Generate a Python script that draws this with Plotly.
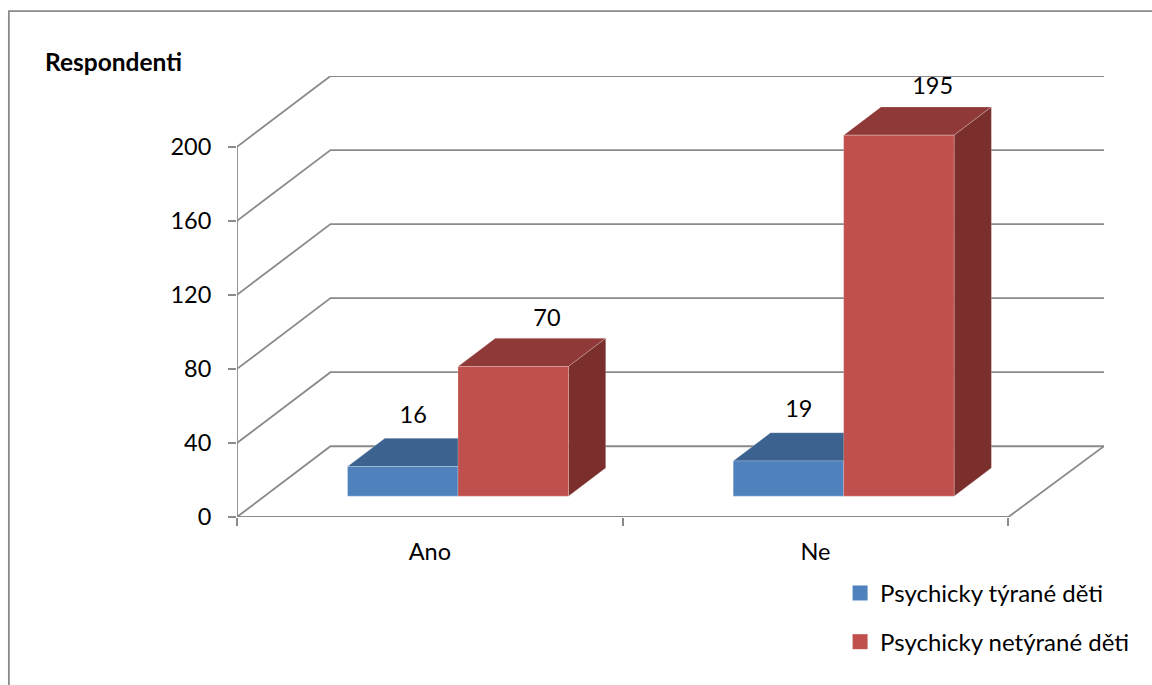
import plotly.graph_objects as go

# Survey counts per answer
categories = ["Ano", "Ne"]
series_names = ["Psychicky týrané děti", "Psychicky netýrané děti"]
abused = [16, 19]
not_abused = [70, 195]
value_ticks = [0, 40, 80, 120, 160, 200]
axis_title = "Respondenti"

# Colours of each series: front, top and side faces
FACES = [
    {"front": "#4f81bd", "top": "#3c6390", "side": "#2f4f73"},
    {"front": "#c0504d", "top": "#8f3a38", "side": "#7a2f2d"},
]
GRID = "#8a8a8a"
FONT = "Lato"

# Oblique projection: how far the back wall is shifted from the front plane
CAT_PX = 385.8
UNIT_PX = 371.5 / 200
DEPTH_X = 93.5 / CAT_PX          # categories
DEPTH_Y = 71.0 / UNIT_PX         # value units
BAR_OFFSET = 0.2151              # bar start inside its category
BAR_WIDTH = 0.2864               # one bar, in categories
DEPTH_NEAR, DEPTH_FAR = 0.295, 0.694
WALL_END = 2.0057                # the back wall runs slightly past the last category
X_MAX = WALL_END + DEPTH_X

# Plot rectangle in pixels
W, H = 1152, 685
LEFT, TOP, BOTTOM = 236.7, 75.5, 517.5
RIGHT = LEFT + X_MAX * CAT_PX


def project(x, v, d):
    """Map category position, value and depth (0 front, 1 back) to axis coordinates."""
    return x + d * DEPTH_X, v + d * DEPTH_Y


def polygon(points):
    xs, ys = zip(*[project(*p) for p in points])
    return list(xs) + [xs[0], None], list(ys) + [ys[0], None]


fig = go.Figure()

# Back walls and floor lines
gx, gy = [], []
for v in value_ticks:
    for p in [(0, v, 0), (0, v, 1), (WALL_END, v, 1)]:
        x, y = project(*p)
        gx.append(x)
        gy.append(y)
    gx.append(None)
    gy.append(None)
for p in [(0, 0, 0), (0, 200, 0), None, (0, 0, 0), (2, 0, 0), (WALL_END, 0, 1)]:
    if p is None:
        gx.append(None)
        gy.append(None)
    else:
        x, y = project(*p)
        gx.append(x)
        gy.append(y)
fig.add_trace(go.Scatter(x=gx, y=gy, mode="lines", cliponaxis=False, showlegend=False,
                         hoverinfo="skip", line=dict(color=GRID, width=1.8)))

# Bars: one filled polygon per visible face
for s, values in enumerate([abused, not_abused]):
    for c, v in enumerate(values):
        x0 = c + BAR_OFFSET + s * BAR_WIDTH
        x1 = x0 + BAR_WIDTH
        faces = {
            "top": [(x0, v, DEPTH_NEAR), (x1, v, DEPTH_NEAR), (x1, v, DEPTH_FAR), (x0, v, DEPTH_FAR)],
            "side": [(x1, 0, DEPTH_NEAR), (x1, 0, DEPTH_FAR), (x1, v, DEPTH_FAR), (x1, v, DEPTH_NEAR)],
            "front": [(x0, 0, DEPTH_NEAR), (x1, 0, DEPTH_NEAR), (x1, v, DEPTH_NEAR), (x0, v, DEPTH_NEAR)],
        }
        for name, pts in faces.items():
            px, py = polygon(pts)
            fig.add_trace(go.Scatter(
                x=px, y=py, mode="lines", fill="toself", fillcolor=FACES[s][name],
                line=dict(color="rgba(255,255,255,0.22)", width=1),
                cliponaxis=False, showlegend=False, hoverinfo="skip"))

# Value labels float above each bar, with a per-series shift
label_shift = [0.027, 0.0875]
label_lift = [26.7, 25.3]
for s, values in enumerate([abused, not_abused]):
    lx = [project(c + BAR_OFFSET + s * BAR_WIDTH + BAR_WIDTH / 2 + label_shift[s], v, DEPTH_NEAR)[0]
          for c, v in enumerate(values)]
    ly = [project(0, v, DEPTH_NEAR)[1] + label_lift[s] for v in values]
    fig.add_trace(go.Scatter(x=lx, y=ly, mode="text", text=[str(v) for v in values],
                             textposition="middle center", cliponaxis=False, showlegend=False,
                             hoverinfo="skip", textfont=dict(family=FONT, size=23.5, color="#000")))

# Legend entries
for s, name in enumerate(series_names):
    fig.add_trace(go.Scatter(x=[None], y=[None], mode="markers", name=name, legendgroup=name,
                             marker=dict(symbol="square", size=15, color=FACES[s]["front"])))


def paper_x(px):
    return (px - LEFT) / (RIGHT - LEFT)


def paper_y(py):
    return (BOTTOM - py) / (BOTTOM - TOP)


fig.update_layout(
    width=W, height=H, autosize=False,
    margin=dict(l=LEFT, r=W - RIGHT, t=TOP, b=H - BOTTOM, pad=0),
    paper_bgcolor="white", plot_bgcolor="white",
    font=dict(family=FONT, size=23.5, color="#000"),
    xaxis=dict(range=[0, X_MAX], tickmode="array",
               tickvals=[i + 0.5 for i in range(len(categories))], ticktext=categories,
               ticks="", ticklen=0, showgrid=False, zeroline=False, showline=False,
               ticklabelstandoff=18,
               minor=dict(tickmode="array", tickvals=[0, 1, 2], ticks="outside", ticklen=8,
                          tickwidth=1.8, tickcolor=GRID, showgrid=False)),
    yaxis=dict(range=[0, 200 + DEPTH_Y], tickmode="array", tickvals=value_ticks,
               ticks="outside", ticklen=8, tickwidth=1.8, tickcolor=GRID,
               showgrid=False, zeroline=False, showline=False, ticklabelstandoff=12),
    legend=dict(x=paper_x(840), y=paper_y(571.5), xanchor="left", yanchor="top",
                bgcolor="rgba(0,0,0,0)", tracegroupgap=14.5, font=dict(family=FONT, size=24)),
    annotations=[dict(text=f"<b>{axis_title}</b>", xref="paper", yref="paper",
                      x=paper_x(42.5), y=paper_y(61), xanchor="left", yanchor="middle",
                      showarrow=False, font=dict(family=FONT, size=24.5, color="#000"))],
    shapes=[dict(type="rect", xref="paper", yref="paper", layer="below",
                 x0=paper_x(8.5), x1=paper_x(1170), y0=paper_y(10.5), y1=paper_y(700),
                 line=dict(color="#8a8a8a", width=1.8))],
)

fig.write_html("out.html")
